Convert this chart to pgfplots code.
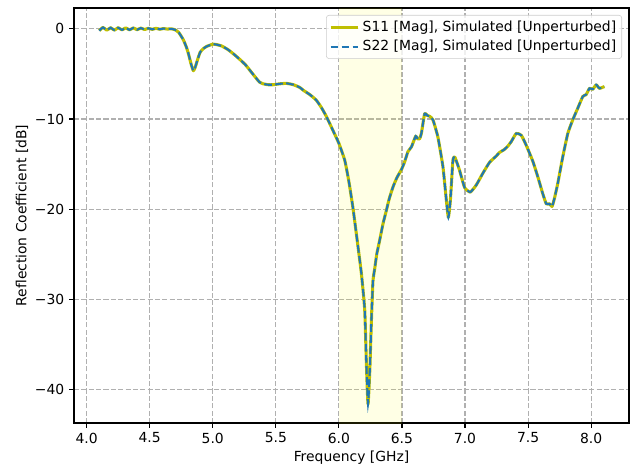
\documentclass[border=0pt]{standalone}
\usepackage{fontspec}
\setmainfont{DejaVu Sans}
\usepackage{pgfplots}
\usepackage{pgfplotstable}
\pgfplotsset{compat=1.18}
\definecolor{syel}{RGB}{191,191,0}
\definecolor{sblue}{RGB}{31,119,180}
\definecolor{gridgray}{RGB}{176,176,176}
\definecolor{spanyel}{RGB}{255,255,0}
\pgfplotstableread{
f s
4.10 -0.20
4.13 0.15
4.16 -0.15
4.19 0.12
4.22 -0.15
4.25 0.12
4.28 -0.12
4.31 0.10
4.34 -0.12
4.37 0.10
4.40 -0.10
4.43 0.08
4.46 -0.08
4.49 0.06
4.52 -0.06
4.55 0.05
4.58 -0.05
4.61 0.03
4.64 -0.03
4.67 0.0
4.70 -0.1
4.73 -0.4
4.766 -1.2
4.79 -2.0
4.806 -2.7
4.83 -4.0
4.846 -4.65
4.86 -4.3
4.88 -3.4
4.90 -2.6
4.925 -2.2
4.952 -1.95
4.98 -1.8
5.00 -1.7
5.03 -1.75
5.07 -1.9
5.12 -2.3
5.17 -2.85
5.215 -3.4
5.26 -4.0
5.30 -4.7
5.34 -5.4
5.37 -5.9
5.40 -6.1
5.44 -6.2
5.48 -6.2
5.53 -6.1
5.585 -6.05
5.64 -6.2
5.69 -6.5
5.717 -6.8
5.77 -7.3
5.82 -7.9
5.86 -8.7
5.90 -9.7
5.954 -11.3
6.00 -12.7
6.047 -14.6
6.08 -17.0
6.113 -20.0
6.152 -24.2
6.179 -27.2
6.205 -31.2
6.218 -37.1
6.231 -41.6
6.245 -37.9
6.258 -32.3
6.27 -28.0
6.284 -26.6
6.30 -25.0
6.324 -23.4
6.35 -21.6
6.377 -20.1
6.40 -18.8
6.43 -17.5
6.46 -16.5
6.496 -15.6
6.52 -14.8
6.548 -13.6
6.575 -13.1
6.609 -11.9
6.625 -12.2
6.64 -12.2
6.654 -11.6
6.68 -9.4
6.70 -9.6
6.72 -9.7
6.746 -10.1
6.785 -12.0
6.825 -15.3
6.852 -19.0
6.868 -20.9
6.884 -19.0
6.904 -14.6
6.918 -14.2
6.935 -14.8
6.957 -15.7
6.997 -17.6
7.042 -18.1
7.09 -17.3
7.142 -16.0
7.195 -14.8
7.248 -14.1
7.274 -13.7
7.31 -13.4
7.34 -13.0
7.367 -12.5
7.406 -11.6
7.446 -11.8
7.485 -12.9
7.538 -14.7
7.577 -16.4
7.617 -18.3
7.644 -19.4
7.67 -19.4
7.69 -19.7
7.709 -18.8
7.736 -17.1
7.775 -14.2
7.815 -11.6
7.854 -10.1
7.894 -8.8
7.934 -7.5
7.96 -7.3
7.987 -6.6
8.013 -6.7
8.04 -6.2
8.066 -6.6
8.105 -6.4
}\sdata
\begin{document}
\fontsize{10}{12}\selectfont
\begin{tikzpicture}
\begin{axis}[
  scale only axis,
  width=399.6pt, height=298.8pt,
  xmin=3.9, xmax=8.3, ymin=-43.7, ymax=2.3,
  xtick={4,4.5,5,5.5,6,6.5,7,7.5,8},
  xticklabels={4.0,4.5,5.0,5.5,6.0,6.5,7.0,7.5,8.0},
  ytick={-40,-30,-20,-10,0},
  yticklabels={−40,−30,−20,−10,0},
  tick align=outside,
  major tick length=3.5pt,
  tick style={black, line width=0.8pt},
  axis line style={line width=0.8pt},
  xtick pos=bottom, ytick pos=left,
  grid=major,
  major grid style={gridgray, line width=0.8pt, dash pattern=on 3.7pt off 1.6pt},
  xlabel={Frequency [GHz]},
  ylabel={Reflection Coefficient [dB]},
  xlabel style={at={(axis description cs:0.5,-0.0843)}, anchor=center},
  ylabel style={at={(axis description cs:-0.0938,0.5)}, anchor=center},
  tick label style={font=\fontsize{10}{12}\selectfont},
  label style={font=\fontsize{10}{12}\selectfont},
  legend style={at={(1,1)}, anchor=north east, xshift=-5pt, yshift=-5pt,
    draw=black!20, rounded corners=2pt, fill=white, fill opacity=0.8, text opacity=1,
    font=\fontsize{10}{12}\selectfont, inner sep=2pt, row sep=1pt},
  legend cell align=left,
  legend image code/.code={\draw[#1] (0pt,0pt) -- (20pt,0pt);},
]
\addplot[fill=spanyel, fill opacity=0.1, draw=none, forget plot] coordinates {(6,-50) (6.5,-50) (6.5,10) (6,10)} -- cycle;
\addplot[syel, line width=2.2pt, line join=round, smooth, tension=0.3] table[x=f,y=s]{\sdata};
\addlegendentry{S11 [Mag], Simulated [Unperturbed]}
\addplot[sblue, line width=1.5pt, dash pattern=on 5.55pt off 2.4pt, smooth, tension=0.3] table[x=f,y=s]{\sdata};
\addlegendentry{S22 [Mag], Simulated [Unperturbed]}
\end{axis}
\pgfresetboundingbox
\path (current axis.south west) +(-53.3pt,-31.7pt) (current axis.north east) +(6.5pt,5.8pt);
\end{tikzpicture}
\end{document}
